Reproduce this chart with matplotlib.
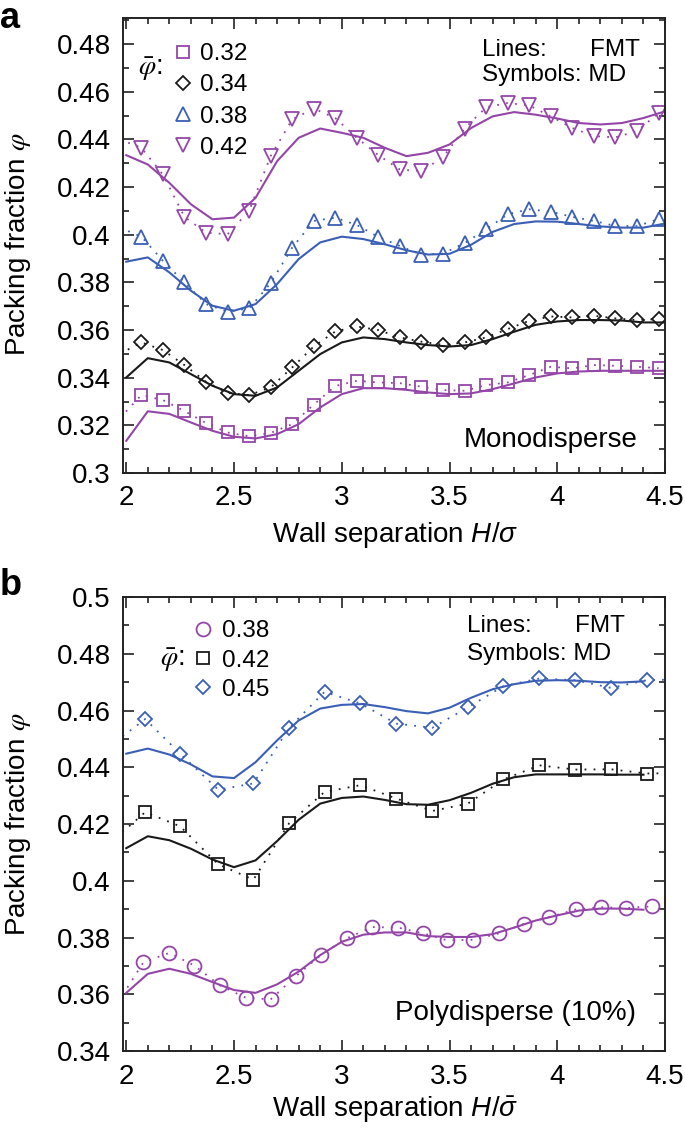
import matplotlib.pyplot as plt
from matplotlib.lines import Line2D
from matplotlib.ticker import MultipleLocator, FuncFormatter

plt.rcParams['font.family'] = ['Liberation Sans', 'DejaVu Sans']
plt.rcParams['mathtext.fontset'] = 'custom'
plt.rcParams['mathtext.rm'] = 'Liberation Sans'
plt.rcParams['mathtext.it'] = 'Liberation Sans:italic'

PURPLE = '#9446a8'
BLUE = '#3a5fb5'
BLACK = '#1a1a1a'

# ---- panel a: monodisperse ----
# MD symbols (first value only starts the dotted line at the left edge)
h_md_a = [1.97, 2.07, 2.17, 2.27, 2.37, 2.47, 2.57, 2.67, 2.77, 2.87, 2.97,
          3.07, 3.17, 3.27, 3.37, 3.47, 3.57, 3.67, 3.77, 3.87, 3.97,
          4.07, 4.17, 4.27, 4.37, 4.47]
md_032 = [0.323, 0.3327, 0.3306, 0.3260, 0.3210, 0.3170, 0.3154, 0.3168, 0.3205,
          0.3287, 0.3365, 0.3387, 0.3380, 0.3377, 0.3362, 0.3348, 0.3345, 0.3369,
          0.3380, 0.3411, 0.3446, 0.3439, 0.3453, 0.3450, 0.3446, 0.3440]
md_034 = [0.350, 0.3548, 0.3516, 0.3453, 0.3383, 0.3336, 0.3327, 0.3359, 0.3443,
          0.3531, 0.3594, 0.3615, 0.3600, 0.3569, 0.3551, 0.3538, 0.3548, 0.3569,
          0.3604, 0.3639, 0.3657, 0.3653, 0.3660, 0.3649, 0.3642, 0.3646]
md_038 = [0.403, 0.3992, 0.3891, 0.3800, 0.3709, 0.3677, 0.3691, 0.3797, 0.3946,
          0.4058, 0.4072, 0.4041, 0.3991, 0.3953, 0.3916, 0.3921, 0.3965, 0.4023,
          0.4086, 0.4107, 0.4097, 0.4075, 0.4058, 0.4037, 0.4037, 0.4065]
md_042 = [0.440, 0.4365, 0.4253, 0.4075, 0.4009, 0.4002, 0.4100, 0.4330, 0.4484,
          0.4530, 0.4490, 0.4407, 0.4334, 0.4274, 0.4267, 0.4326, 0.4446, 0.4535,
          0.4553, 0.4543, 0.4497, 0.4448, 0.4414, 0.4409, 0.4435, 0.4511]

# FMT lines
h_fmt_a = [2.0, 2.1, 2.2, 2.3, 2.4, 2.5, 2.6, 2.7, 2.8, 2.9, 3.0, 3.1, 3.2,
           3.3, 3.4, 3.5, 3.6, 3.7, 3.8, 3.9, 4.0, 4.1, 4.2, 4.3, 4.4, 4.5]
fmt_032 = [0.3135, 0.3259, 0.3248, 0.3212, 0.3177, 0.3152, 0.3145, 0.3163, 0.3205,
           0.3275, 0.3331, 0.3356, 0.3356, 0.3349, 0.3338, 0.3331, 0.3334, 0.3352,
           0.3376, 0.3401, 0.3418, 0.3426, 0.3429, 0.3429, 0.3429, 0.3429]
fmt_034 = [0.3401, 0.3482, 0.3464, 0.3415, 0.3366, 0.3331, 0.3324, 0.3359, 0.3429,
           0.3499, 0.3548, 0.3569, 0.3562, 0.3548, 0.3537, 0.3531, 0.3537, 0.3562,
           0.3593, 0.3622, 0.3636, 0.3642, 0.3642, 0.3640, 0.3632, 0.3632]
fmt_038 = [0.3887, 0.3905, 0.3842, 0.3765, 0.3702, 0.3681, 0.3709, 0.3793, 0.3898,
           0.3968, 0.3992, 0.3982, 0.3960, 0.3935, 0.3917, 0.3920, 0.3958, 0.4012,
           0.4045, 0.4056, 0.4055, 0.4045, 0.4035, 0.4030, 0.4030, 0.4047]
fmt_042 = [0.4334, 0.4295, 0.4218, 0.4128, 0.4065, 0.4072, 0.4155, 0.4309, 0.4407,
           0.4446, 0.4428, 0.4407, 0.4365, 0.4330, 0.4344, 0.4379, 0.4448, 0.4497,
           0.4515, 0.4504, 0.4488, 0.4469, 0.4463, 0.4469, 0.4490, 0.4518]

# ---- panel b: polydisperse ----
h_circ = [1.96, 2.08, 2.20, 2.316, 2.435, 2.554, 2.67, 2.787, 2.906, 3.025, 3.142,
          3.261, 3.377, 3.49, 3.611, 3.731, 3.847, 3.963, 4.086, 4.202, 4.318, 4.438]
md_b038 = [0.357, 0.3713, 0.3746, 0.3701, 0.3631, 0.3588, 0.3582, 0.3664, 0.3740,
           0.3798, 0.3837, 0.3835, 0.3815, 0.3790, 0.3792, 0.3815, 0.3849, 0.3872,
           0.3899, 0.3907, 0.3904, 0.3910]
h_sq = [1.95, 2.088, 2.25, 2.427, 2.59, 2.756, 2.92, 3.086, 3.253, 3.42, 3.585,
        3.75, 3.917, 4.083, 4.249, 4.415, 4.58]
md_b042 = [0.415, 0.4242, 0.4192, 0.4058, 0.4004, 0.4203, 0.4313, 0.4337, 0.4290,
           0.4246, 0.4272, 0.4357, 0.4407, 0.4392, 0.4393, 0.4378, 0.438]
md_b045 = [0.449, 0.4570, 0.4448, 0.4321, 0.4343, 0.4539, 0.4666, 0.4625, 0.4554,
           0.4539, 0.4611, 0.4686, 0.4713, 0.4707, 0.4680, 0.4707, 0.471]

h_fmt_b = [2.0, 2.1, 2.2, 2.3, 2.4, 2.5, 2.6, 2.7, 2.8, 2.9, 3.0, 3.1, 3.2,
           3.3, 3.4, 3.5, 3.6, 3.7, 3.8, 3.9, 4.0, 4.1, 4.2, 4.3, 4.4]
fmt_b038 = [0.3605, 0.3672, 0.3690, 0.3672, 0.3643, 0.3615, 0.3605, 0.3635, 0.3680,
            0.3738, 0.3785, 0.3810, 0.3818, 0.3818, 0.3805, 0.3802, 0.3802, 0.3812,
            0.3835, 0.3860, 0.3878, 0.3895, 0.3902, 0.3902, 0.3898]
fmt_b042 = [0.4115, 0.4157, 0.4143, 0.4113, 0.4075, 0.4048, 0.4072, 0.4140, 0.4215,
            0.4272, 0.4292, 0.4297, 0.4285, 0.4270, 0.4268, 0.4284, 0.4310, 0.4342,
            0.4365, 0.4375, 0.4375, 0.4375, 0.4375, 0.4374, 0.4374]
fmt_b045 = [0.4448, 0.4466, 0.4445, 0.4410, 0.4368, 0.4362, 0.4418, 0.4495, 0.4565,
            0.4607, 0.4620, 0.4623, 0.4612, 0.4598, 0.4590, 0.4610, 0.4645, 0.4675,
            0.4693, 0.4705, 0.4707, 0.4705, 0.4700, 0.4699, 0.4703]

FS = 20      # ticks, axis labels, panel captions
FS_S = 17.5  # legend and "Lines/Symbols" note
DOT = (0, (1, 4))
MS = {'s': 8.5, 'D': 7.5, '^': 10, 'v': 10, 'o': 10}

fig = plt.figure(figsize=(6.85, 11.31), dpi=100)
ax_a = fig.add_axes([0.1796, 0.5818, 0.7912, 0.4023])
ax_b = fig.add_axes([0.1796, 0.0707, 0.7912, 0.4014])


def style(ax, ylim, ymajor):
    ax.set_xlim(1.985, 4.5)
    ax.set_ylim(*ylim)
    ax.xaxis.set_major_locator(MultipleLocator(0.5))
    ax.xaxis.set_minor_locator(MultipleLocator(0.1))
    ax.yaxis.set_major_locator(MultipleLocator(ymajor))
    ax.yaxis.set_minor_locator(MultipleLocator(ymajor / 2))
    fmt = FuncFormatter(lambda v, p: '%g' % round(v, 3))
    ax.xaxis.set_major_formatter(fmt)
    ax.yaxis.set_major_formatter(fmt)
    ax.tick_params(which='both', direction='in', top=True, right=True,
                   labelsize=FS, width=1.2, color='#222222')
    ax.tick_params(which='major', length=8, pad=9)
    ax.tick_params(which='minor', length=4.5)
    for s in ax.spines.values():
        s.set_linewidth(1.4)
        s.set_color('#222222')


def md(ax, x, y, color, marker, every):
    ax.plot(x, y, ls=DOT, lw=1.3, color=color, marker=marker, ms=MS[marker],
            mfc='none', mec=color, mew=1.3, markevery=every)


def notes(ax, x0, x1, y0, y1):
    ax.text(x0, y0, 'Lines:', transform=ax.transAxes, fontsize=FS_S, va='baseline')
    ax.text(x1, y0, 'FMT', transform=ax.transAxes, fontsize=FS_S, va='baseline', ha='right')
    ax.text(x0, y1, 'Symbols: MD', transform=ax.transAxes, fontsize=FS_S, va='baseline')


def handles(spec):
    return [Line2D([], [], ls='none', marker=m, ms=MS[m], mfc='none', mec=c, mew=1.3)
            for m, c in spec]


# panel a
style(ax_a, (0.3, 0.491), 0.02)
for y, c in [(fmt_032, PURPLE), (fmt_034, BLACK), (fmt_038, BLUE), (fmt_042, PURPLE)]:
    ax_a.plot(h_fmt_a, y, color=c, lw=1.5)
md(ax_a, h_md_a, md_032, PURPLE, 's', slice(1, None))
md(ax_a, h_md_a, md_034, BLACK, 'D', slice(1, None))
md(ax_a, h_md_a, md_038, BLUE, '^', slice(1, None))
md(ax_a, h_md_a, md_042, PURPLE, 'v', slice(1, None))

ax_a.legend(handles([('s', PURPLE), ('D', BLACK), ('^', BLUE), ('v', PURPLE)]),
            ['0.32', '0.34', '0.38', '0.42'], loc='upper left',
            bbox_to_anchor=(0.09, 0.945), frameon=False, fontsize=FS_S,
            handlelength=0.95, handletextpad=0.22, labelspacing=0.38,
            borderpad=0, borderaxespad=0)
ax_a.text(0.028, 0.888, r'$\bar{\varphi}$:', transform=ax_a.transAxes,
          fontsize=FS, va='center', ha='left', math_fontfamily='stix')
notes(ax_a, 0.662, 0.954, 0.916, 0.861)
ax_a.text(0.950, 0.057, 'Monodisperse', transform=ax_a.transAxes, fontsize=FS,
          va='baseline', ha='right')
ax_a.set_xlabel(r'Wall separation $H/\sigma$', fontsize=FS, va='baseline')
ax_a.set_ylabel(r'Packing fraction $\varphi$', fontsize=FS, math_fontfamily='stix')
ax_a.xaxis.set_label_coords(0.502, -0.152)
ax_a.yaxis.set_label_coords(-0.166, 0.503)

# panel b
style(ax_b, (0.34, 0.5), 0.02)
for y, c in [(fmt_b038, PURPLE), (fmt_b042, BLACK), (fmt_b045, BLUE)]:
    ax_b.plot(h_fmt_b, y, color=c, lw=1.5)
md(ax_b, h_circ, md_b038, PURPLE, 'o', slice(1, None))
md(ax_b, h_sq, md_b042, BLACK, 's', slice(1, -1))
md(ax_b, h_sq, md_b045, BLUE, 'D', slice(1, -1))

ax_b.legend(handles([('o', PURPLE), ('s', BLACK), ('D', BLUE)]),
            ['0.38', '0.42', '0.45'], loc='upper left',
            bbox_to_anchor=(0.127, 0.949), frameon=False, fontsize=FS_S,
            handlelength=0.95, handletextpad=0.3, labelspacing=0.3,
            borderpad=0, borderaxespad=0)
ax_b.text(0.068, 0.861, r'$\bar{\varphi}$:', transform=ax_b.transAxes,
          fontsize=FS, va='center', ha='left', math_fontfamily='stix')
notes(ax_b, 0.634, 0.926, 0.923, 0.861)
ax_b.text(0.946, 0.068, 'Polydisperse (10%)', transform=ax_b.transAxes, fontsize=FS,
          va='baseline', ha='right')
ax_b.set_xlabel(r'Wall separation $H/\bar{\sigma}$', fontsize=FS, va='baseline')
ax_b.set_ylabel(r'Packing fraction $\varphi$', fontsize=FS, math_fontfamily='stix')
ax_b.xaxis.set_label_coords(0.502, -0.145)
ax_b.yaxis.set_label_coords(-0.166, 0.5)

fig.text(0.0, 0.999, 'a', fontsize=26, fontweight='bold', va='top', ha='left')
fig.text(0.0, 0.482, 'b', fontsize=26, fontweight='bold', va='center', ha='left')

fig.savefig('out.png', dpi=100)
